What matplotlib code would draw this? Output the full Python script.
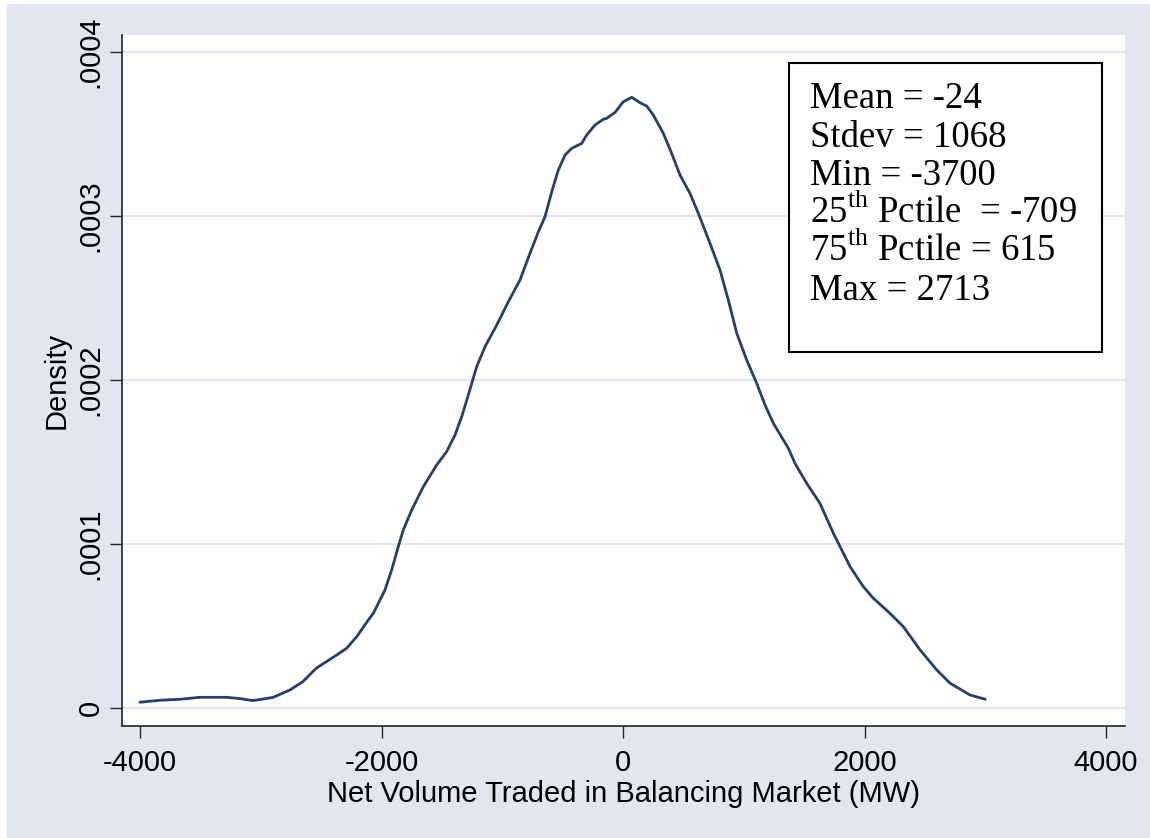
import matplotlib
matplotlib.use("Agg")
import matplotlib.pyplot as plt
from matplotlib.patches import Rectangle

plt.rcParams['font.family'] = ['Liberation Sans', 'DejaVu Sans']
plt.rcParams['axes.unicode_minus'] = False
plt.rcParams['mathtext.fontset'] = 'custom'
plt.rcParams['mathtext.rm'] = 'Liberation Serif'

# kernel density estimate (y in units of 1e-4)
net_volume = [-4000, -3834, -3669, -3503, -3282, -3172, -3067, -2992, -2896, -2758,
              -2652, -2541, -2371, -2289, -2205, -2109, -2068, -1971, -1916, -1861,
              -1820, -1750, -1654, -1543, -1461, -1391, -1336, -1281, -1212, -1143,
              -1046, -950, -853, -770, -701, -646, -590, -536, -480, -425,
              -342, -301, -232, -163, -135, -66, 2, 72, 141, 196,
              251, 334, 403, 472, 555, 624, 720, 803, 872, 942,
              1024, 1107, 1176, 1245, 1369, 1424, 1521, 1631, 1742, 1880,
              1990, 2073, 2211, 2321, 2460, 2598, 2708, 2874, 3000]
density_e4 = [0.035, 0.047, 0.053, 0.065, 0.065, 0.057, 0.045, 0.053, 0.065, 0.110,
              0.160, 0.242, 0.323, 0.364, 0.435, 0.537, 0.577, 0.720, 0.841, 0.984,
              1.085, 1.207, 1.349, 1.482, 1.563, 1.665, 1.776, 1.909, 2.081, 2.203,
              2.335, 2.477, 2.610, 2.773, 2.904, 2.996, 3.148, 3.280, 3.372, 3.413,
              3.443, 3.494, 3.555, 3.590, 3.596, 3.632, 3.697, 3.724, 3.691, 3.671,
              3.616, 3.504, 3.382, 3.250, 3.138, 3.016, 2.834, 2.671, 2.488, 2.285,
              2.122, 1.980, 1.848, 1.736, 1.584, 1.492, 1.370, 1.248, 1.065, 0.862,
              0.740, 0.669, 0.577, 0.496, 0.354, 0.232, 0.151, 0.079, 0.053]
density = [v * 1e-4 for v in density_e4]

x_ticks = [-4000, -2000, 0, 2000, 4000]
x_labels = ['-4000', '-2000', '0', '2000', '4000']
y_ticks = [0, 0.0001, 0.0002, 0.0003, 0.0004]
y_labels = ['0', '.0001', '.0002', '.0003', '.0004']

stats_lines = ['Mean = -24', 'Stdev = 1068', 'Min = -3700',
               r'25$^{\mathrm{th}}$ Pctile  = -709', r'75$^{\mathrm{th}}$ Pctile = 615',
               'Max = 2713']

bg = '#E1E6F0'
navy = '#233F70'

fig = plt.figure(figsize=(11.5, 8.38), dpi=100)
fig.patch.set_facecolor('white')
fig.patches.append(Rectangle((7 / 1150, 0), 1, 1 - 4 / 838, transform=fig.transFigure,
                             facecolor=bg, edgecolor='none', zorder=-10))

ax = fig.add_axes([122 / 1150, 112 / 838, 1003 / 1150, 691 / 838])
ax.set_facecolor('white')

ax.plot(net_volume, density, color=navy, lw=2.0, zorder=3,
        solid_joinstyle='round', solid_capstyle='round')

ax.set_xlim(-4149, 4157)
ax.set_ylim(-0.0000110, 0.0004104)
ax.set_xticks(x_ticks)
ax.set_xticklabels(x_labels)
ax.set_yticks(y_ticks)
ax.set_yticklabels(y_labels, rotation=90, va='center')

ax.grid(axis='y', color=bg, lw=1.6, zorder=0)
ax.grid(axis='x', visible=False)
for side in ['top', 'right']:
    ax.spines[side].set_visible(False)
for side in ['left', 'bottom']:
    ax.spines[side].set_color('#222222')
    ax.spines[side].set_linewidth(1.2)

ax.tick_params(axis='both', direction='out', length=8.6, width=1.0, color='#222222',
               labelsize=21, labelcolor='black')
ax.tick_params(axis='x', pad=8)
ax.tick_params(axis='y', pad=4)

ax.set_xlabel('Net Volume Traded in Balancing Market (MW)', fontsize=21)
ax.set_ylabel('Density', fontsize=21)
ax.xaxis.set_label_coords(0.5, -0.078)
ax.yaxis.set_label_coords(-0.051, 0.5)

# summary statistics box
ax.add_patch(Rectangle((0.665, 0.541), 0.312, 0.4185, transform=ax.transAxes,
                       facecolor='white', edgecolor='black', lw=1.5, zorder=4))
for i, line in enumerate(stats_lines):
    ax.text(0.686, 0.894 - i * 0.0554, line, transform=ax.transAxes,
            fontsize=26.5, family='Liberation Serif', va='baseline', ha='left',
            zorder=5)

fig.savefig('out.png', dpi=100)
